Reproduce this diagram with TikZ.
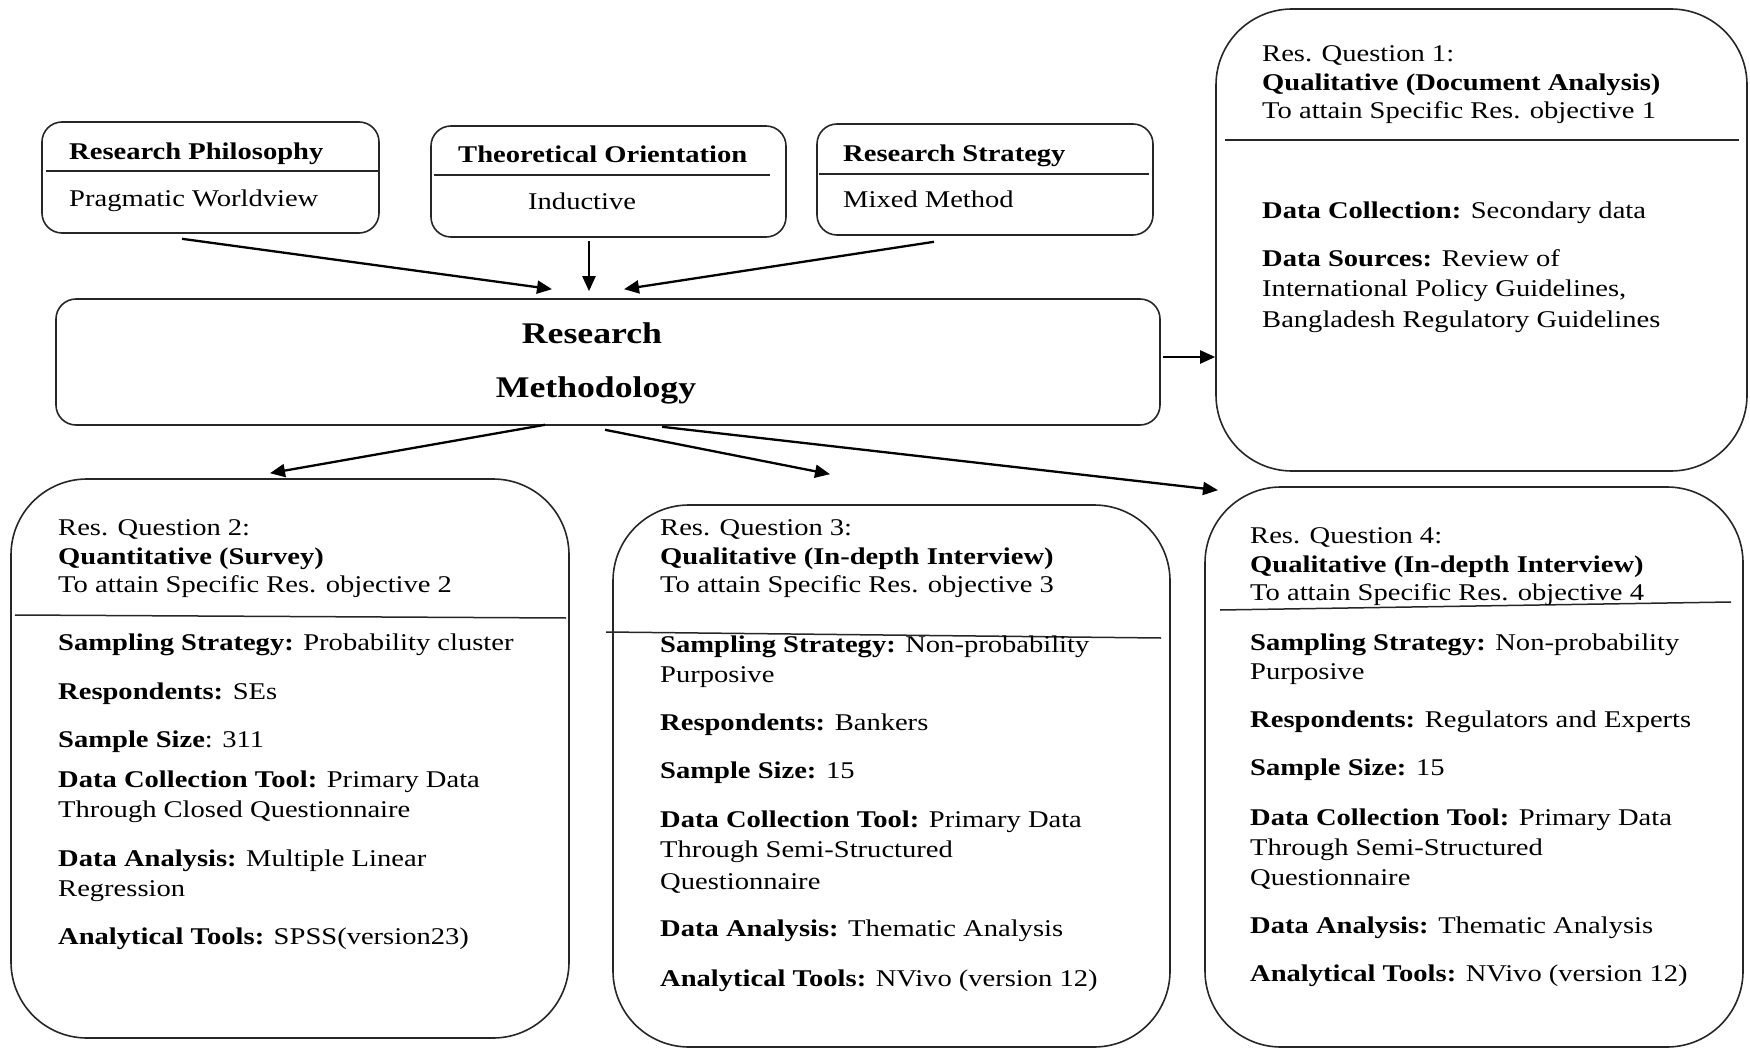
\documentclass[tikz,border=0pt]{standalone}
\usepackage{fontspec}
\setmainfont{Liberation Serif}[FakeStretch=1.19]
\usetikzlibrary{arrows.meta,calc}

\tikzset{
  boxline/.style={draw=black!85, line width=1.6pt},
  smallbox/.style={boxline, rounded corners=20pt, inner sep=0pt},
  bigbox/.style={boxline, rounded corners=76pt, inner sep=0pt},
  divider/.style={draw=black!85, line width=1.5pt},
  txt/.style={anchor=base west, inner sep=0pt, font=\fontsize{24}{28.5}\selectfont},
  head/.style={txt, font=\fontsize{24}{28.5}\selectfont\bfseries},
  title/.style={anchor=base, inner sep=0pt, font=\fontsize{30}{36}\selectfont\bfseries},
  arr/.style={draw=black, line width=2.3pt, -{Triangle[length=15pt,width=13pt]}}
}

\begin{document}
\begin{tikzpicture}[x=1pt, y=-1pt]
\useasboundingbox (0,0) rectangle (1750,1048);

% ---------- top row: philosophy, orientation, strategy ----------
\node[smallbox, minimum width=337pt, minimum height=111pt] (rp) at (210.5,177.5) {};
\draw[divider] (46,171) -- (378,171);
\node[head] (rpt) at (69,160) {Research Philosophy};
\node[txt] (rpb) at (69,207) {Pragmatic Worldview};

\node[smallbox, minimum width=355pt, minimum height=111pt] (to) at (608.5,181.5) {};
\draw[divider] (434,175) -- (770,175);
\node[head] (tot) at (458,163) {Theoretical Orientation};
\node[txt] (tob) at (528,210) {Inductive};

\node[smallbox, minimum width=336pt, minimum height=111pt] (rs) at (985,179.5) {};
\draw[divider] (819,174) -- (1149,174);
\node[head] (rst) at (843,162) {Research Strategy};
\node[txt] (rsb) at (843,208) {Mixed Method};

% ---------- central box ----------
\node[smallbox, minimum width=1104pt, minimum height=126pt] (rm) at (608,362) {};
\node[title] (rm1) at (592,344) {Research};
\node[title] (rm2) at (596,397) {Methodology};

% ---------- research question 1 ----------
\node[bigbox, minimum width=531pt, minimum height=462pt] (q1) at (1481.5,240) {};
\draw[divider] (1225,140) -- (1739,140);
\node[txt] (q1a) at (1262,62) {Res. Question 1:};
\node[txt] (q1b) at (1262,91) {\textbf{Qualitative (Document Analysis)}};
\node[txt] (q1c) at (1262,119) {To attain Specific Res. objective 1};
\node[txt] (q1d) at (1262,219) {\textbf{Data Collection:} Secondary data};
\node[txt] (q1e) at (1262,267) {\textbf{Data Sources:} Review of};
\node[txt] (q1f) at (1262,297) {International Policy Guidelines,};
\node[txt] (q1g) at (1262,327) {Bangladesh Regulatory Guidelines};

% ---------- research question 2 ----------
\node[bigbox, minimum width=558pt, minimum height=559pt] (q2) at (290,758.5) {};
\draw[divider] (15,615) -- (566,618);
\node[txt] (q2a) at (58,535) {Res. Question 2:};
\node[txt] (q2b) at (58,564) {\textbf{Quantitative (Survey)}};
\node[txt] (q2c) at (58,592) {To attain Specific Res. objective 2};
\node[txt] (q2d) at (58,650) {\textbf{Sampling Strategy:} Probability cluster};
\node[txt] (q2e) at (58,699) {\textbf{Respondents:} SEs};
\node[txt] (q2f) at (58,747) {\textbf{Sample Size}: 311};
\node[txt] (q2g) at (58,787) {\textbf{Data Collection Tool:} Primary Data};
\node[txt] (q2h) at (58,817) {Through Closed Questionnaire};
\node[txt] (q2i) at (58,866) {\textbf{Data Analysis:} Multiple Linear};
\node[txt] (q2j) at (58,896) {Regression};
\node[txt] (q2k) at (58,944) {\textbf{Analytical Tools:} SPSS(version23)};

% ---------- research question 3 ----------
\node[bigbox, minimum width=557pt, minimum height=542pt] (q3) at (891.5,776) {};
\draw[divider] (606,632) -- (1161,638);
\node[txt] (q3a) at (660,535) {Res. Question 3:};
\node[txt] (q3b) at (660,564) {\textbf{Qualitative (In-depth Interview)}};
\node[txt] (q3c) at (660,592) {To attain Specific Res. objective 3};
\node[txt] (q3d) at (660,652) {\textbf{Sampling Strategy:} Non-probability};
\node[txt] (q3e) at (660,682) {Purposive};
\node[txt] (q3f) at (660,730) {\textbf{Respondents:} Bankers};
\node[txt] (q3g) at (660,778) {\textbf{Sample Size:} 15};
\node[txt] (q3h) at (660,827) {\textbf{Data Collection Tool:} Primary Data};
\node[txt] (q3i) at (660,857) {Through Semi-Structured};
\node[txt] (q3j) at (660,889) {Questionnaire};
\node[txt] (q3k) at (660,936) {\textbf{Data Analysis:} Thematic Analysis};
\node[txt] (q3l) at (660,986) {\textbf{Analytical Tools:} NVivo (version 12)};

% ---------- research question 4 ----------
\node[bigbox, minimum width=538pt, minimum height=560pt] (q4) at (1474,767) {};
\draw[divider] (1220,610) -- (1731,602);
\node[txt] (q4a) at (1250,543) {Res. Question 4:};
\node[txt] (q4b) at (1250,572) {\textbf{Qualitative (In-depth Interview)}};
\node[txt] (q4c) at (1250,600) {To attain Specific Res. objective 4};
\node[txt] (q4d) at (1250,650) {\textbf{Sampling Strategy:} Non-probability};
\node[txt] (q4e) at (1250,679) {Purposive};
\node[txt] (q4f) at (1250,727) {\textbf{Respondents:} Regulators and Experts};
\node[txt] (q4g) at (1250,775) {\textbf{Sample Size:} 15};
\node[txt] (q4h) at (1250,825) {\textbf{Data Collection Tool:} Primary Data};
\node[txt] (q4i) at (1250,855) {Through Semi-Structured};
\node[txt] (q4j) at (1250,885) {Questionnaire};
\node[txt] (q4k) at (1250,933) {\textbf{Data Analysis:} Thematic Analysis};
\node[txt] (q4l) at (1250,981) {\textbf{Analytical Tools:} NVivo (version 12)};

% ---------- connectors ----------
\coordinate (rpout) at ($(rp.south)+(-28.5,5)$);
\coordinate (toout) at ($(to.south)+(-19.5,3)$);
\coordinate (rsout) at ($(rs.south)+(-51,6)$);
\coordinate (rmin1) at ($(rm.north)+(-56,-9)$);
\coordinate (rmin2) at ($(rm.north)+(-19,-7)$);
\coordinate (rmin3) at ($(rm.north)+(16,-9)$);
\draw[arr] (rpout) -- (rmin1);
\draw[arr] (toout) -- (rmin2);
\draw[arr] (rsout) -- (rmin3);

\coordinate (rmright) at ($(rm.east)+(2,-5)$);
\draw[arr] (rmright) -- (rmright -| q1.west);

\coordinate (rmout1) at ($(rm.south)+(-63,-1)$);
\coordinate (rmout2) at ($(rm.south)+(-3,4)$);
\coordinate (rmout3) at ($(rm.south)+(54,1)$);
\coordinate (q2in) at ($(q2.north)+(-20,-5)$);
\coordinate (q3in) at ($(q3.north)+(-61.5,-30)$);
\coordinate (q4in) at ($(q4.north)+(-256,4)$);
\draw[arr] (rmout1) -- (q2in);
\draw[arr] (rmout2) -- (q3in);
\draw[arr] (rmout3) -- (q4in);
\end{tikzpicture}
\end{document}
